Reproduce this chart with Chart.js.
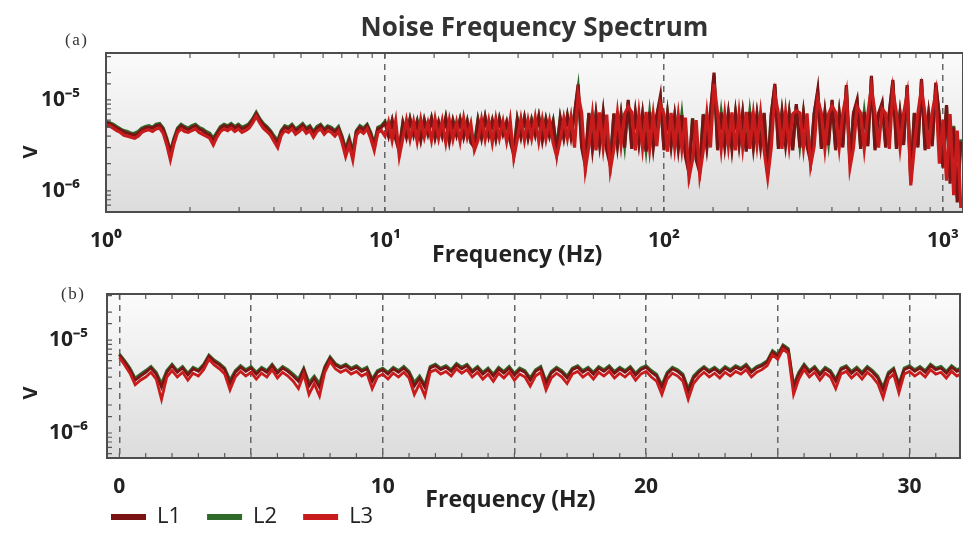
<!DOCTYPE html>
<html>
<head>
<meta charset="utf-8">
<title>Noise Frequency Spectrum</title>
<script src="https://cdn.jsdelivr.net/npm/chart.js@4.4.1/dist/chart.umd.min.js"></script>
<style>
  html, body { margin: 0; padding: 0; background: #fff; overflow: hidden; }
  body { width: 963px; height: 536px; position: relative; font-family: "Open Sans", sans-serif; }
  canvas { position: absolute; left: 0; }
  #topPanel { top: 0; }
  #bottomPanel { top: 270px; }
  .panel-tag { position: absolute; font: 17px "Liberation Serif", serif; letter-spacing: 1.5px; color: #333; }
  .axis-v { position: absolute; width: 20px; text-align: center; font: bold 20px "Open Sans", sans-serif;
            color: #222; transform: rotate(-90deg); line-height: 20px; }
</style>
</head>
<body>
<canvas id="topPanel" width="963" height="270"></canvas>
<canvas id="bottomPanel" width="963" height="270"></canvas>
<div class="panel-tag" style="left:65px; top:30px">(a)</div>
<div class="panel-tag" style="left:61px; top:284px">(b)</div>
<div class="axis-v" style="left:20px; top:142px">V</div>
<div class="axis-v" style="left:20px; top:383px">V</div>
<script>
// Noise spectrum for three lines, values in µV.
const seriesNames = ["L1", "L2", "L3"];
const seriesColors = ["#7a1414", "#2f6a2b", "#c81c1c"];
// L3 drawn on top, L2 underneath
const seriesOrder = [1, 2, 0];

// (a) log frequency axis, 78 bins per decade starting at 1 Hz
const topBinsPerDecade = 78;
const topL1 = [
  5.6, 5.5, 5.2, 4.9, 4.7, 4.45, 4.3, 4.2, 4.1, 4.3,
  4.7, 4.9, 5.0, 4.9, 5.2, 5.3, 4.7, 3.6, 2.7, 3.6,
  4.7, 5.2, 4.9, 4.7, 5.0, 5.2, 4.8, 4.6, 4.3, 4.1,
  3.6, 4.2, 4.9, 5.2, 5.0, 5.3, 4.9, 5.2, 4.8, 5.0,
  5.3, 6.0, 7.0, 6.0, 5.3, 4.9, 4.45, 3.8, 3.4, 4.45,
  5.0, 4.8, 5.2, 4.6, 4.9, 5.3, 4.7, 5.0, 4.3, 4.9,
  5.2, 4.6, 5.0, 4.8, 4.45, 4.9, 3.8, 2.7, 3.6, 2.5,
  4.45, 5.0, 4.7, 5.2, 4.2, 3.1, 4.8, 5.0, 5.6, 4.0,
  5.9, 3.7, 2.7, 5.5, 3.9, 6.1, 4.1, 5.7, 3.6, 5.9,
  4.2, 6.2, 3.8, 5.6, 4.0, 6.3, 3.5, 5.8, 4.1, 6.0,
  3.9, 5.7, 3.4, 3.0, 5.9, 3.8, 6.4, 4.0, 5.8, 3.7,
  6.1, 4.2, 5.6, 3.5, 2.5, 6.0, 3.9, 6.3, 3.8, 5.9,
  4.1, 6.5, 3.6, 6.0, 4.0, 5.7, 2.6, 6.2, 3.8, 6.6,
  3.9, 7.0, 14.8, 3.0, 1.9, 7.2, 2.9, 6.9, 3.2, 7.3,
  2.8, 1.9, 7.1, 3.1, 6.8, 3.0, 10.0, 2.9, 7.2, 3.3,
  6.9, 2.7, 7.4, 3.0, 6.7, 11.0, 2.8, 7.0, 3.1, 6.6,
  2.9, 6.8, 2.4, 1.55, 6.2, 2.2, 1.6, 6.9, 3.0, 7.1,
  20.0, 2.8, 7.3, 3.1, 6.9, 2.9, 7.2, 3.2, 7.0, 2.7,
  7.4, 3.0, 6.8, 3.1, 7.2, 1.5, 6.9, 15.0, 2.9, 7.3,
  3.2, 7.0, 2.8, 9.0, 3.0, 7.2, 3.1, 2.1, 7.0, 12.9,
  2.9, 7.3, 3.2, 10.0, 2.8, 7.1, 3.0, 14.6, 2.0, 7.2,
  10.0, 2.9, 7.4, 3.1, 18.4, 2.8, 7.0, 9.3, 3.0, 7.3,
  16.6, 2.9, 7.1, 3.2, 14.6, 1.26, 7.2, 3.0, 17.0, 2.8,
  7.0, 3.1, 15.5, 6.4, 1.8, 8.8, 1.2, 5.0, 0.75, 3.5,
];
const topL2 = [
  5.8, 5.6, 5.4, 5.1, 4.8, 4.6, 4.5, 4.3, 4.3, 4.5,
  4.9, 5.1, 5.2, 5.0, 5.4, 5.5, 4.9, 3.8, 2.7, 3.8,
  4.9, 5.4, 5.1, 4.9, 5.2, 5.4, 5.0, 4.8, 4.5, 4.3,
  3.8, 4.4, 5.1, 5.4, 5.2, 5.5, 5.1, 5.4, 5.0, 5.2,
  5.5, 6.2, 7.3, 6.2, 5.5, 5.1, 4.6, 4.0, 3.6, 4.6,
  5.2, 5.0, 5.4, 4.8, 5.1, 5.5, 4.9, 5.2, 4.5, 5.1,
  5.4, 4.8, 5.2, 5.0, 4.6, 5.1, 4.0, 2.9, 3.8, 2.7,
  4.6, 5.2, 4.9, 5.4, 4.4, 3.3, 5.0, 5.2, 5.8, 4.2,
  6.0, 3.9, 3.0, 5.7, 4.1, 6.2, 4.3, 5.9, 3.8, 6.1,
  4.4, 6.3, 4.0, 5.8, 4.2, 6.4, 3.7, 6.0, 4.3, 6.2,
  4.1, 5.9, 3.6, 3.3, 6.1, 4.0, 6.5, 4.2, 6.0, 3.9,
  6.3, 4.4, 5.8, 3.7, 2.8, 6.2, 4.1, 6.4, 4.0, 6.1,
  4.3, 6.6, 3.8, 6.2, 4.2, 5.9, 2.9, 6.4, 4.0, 6.7,
  4.1, 7.1, 13.5, 3.2, 2.1, 7.0, 3.1, 7.0, 3.4, 7.1,
  3.0, 2.1, 7.0, 3.3, 6.9, 3.2, 9.4, 3.1, 7.1, 3.5,
  7.0, 2.9, 7.2, 3.2, 6.8, 10.2, 3.0, 7.1, 3.3, 6.7,
  3.1, 6.9, 2.6, 1.7, 6.3, 2.4, 1.8, 7.0, 3.2, 7.2,
  18.5, 3.0, 7.2, 3.3, 7.0, 3.1, 7.1, 3.4, 7.1, 2.9,
  7.3, 3.2, 6.9, 3.3, 7.1, 1.7, 7.0, 14.0, 3.1, 7.2,
  3.4, 7.1, 3.0, 8.6, 3.2, 7.1, 3.3, 2.3, 7.1, 12.0,
  3.1, 7.2, 3.4, 9.5, 3.0, 7.2, 3.2, 13.6, 2.2, 7.1,
  9.5, 3.1, 7.3, 3.3, 17.2, 3.0, 7.1, 8.9, 3.2, 7.2,
  15.5, 3.1, 7.2, 3.4, 13.8, 1.4, 7.1, 3.2, 16.0, 3.0,
  7.1, 3.3, 14.5, 6.6, 2.0, 8.4, 1.4, 5.2, 0.85, 3.7,
];
const topL3 = [
  5.3, 5.2, 4.9, 4.6, 4.4, 4.1, 4.0, 3.9, 3.8, 4.0,
  4.4, 4.6, 4.7, 4.5, 4.8, 4.9, 4.3, 3.2, 2.2, 3.3,
  4.4, 4.8, 4.5, 4.4, 4.6, 4.8, 4.4, 4.2, 4.0, 3.8,
  3.2, 3.9, 4.5, 4.8, 4.6, 4.9, 4.5, 4.8, 4.4, 4.6,
  4.9, 5.6, 6.6, 5.6, 4.9, 4.5, 4.1, 3.5, 3.0, 4.1,
  4.6, 4.4, 4.8, 4.2, 4.5, 4.9, 4.3, 4.6, 3.9, 4.5,
  4.8, 4.2, 4.6, 4.4, 4.0, 4.5, 3.4, 2.4, 3.2, 2.2,
  4.1, 4.6, 4.3, 4.8, 3.8, 2.8, 4.4, 4.6, 4.0, 5.7,
  3.6, 5.9, 2.4, 3.8, 6.0, 3.7, 5.8, 3.5, 6.1, 3.9,
  5.6, 3.6, 6.2, 3.8, 5.9, 3.4, 6.0, 3.7, 5.7, 3.5,
  6.3, 3.9, 5.5, 2.8, 3.6, 6.1, 3.7, 5.9, 3.4, 6.2,
  3.8, 5.8, 3.5, 6.0, 2.3, 3.7, 6.2, 3.6, 6.0, 3.8,
  6.4, 3.5, 6.1, 3.7, 5.9, 3.4, 2.4, 3.6, 6.3, 3.8,
  6.5, 3.0, 11.5, 7.2, 1.7, 3.1, 7.0, 2.8, 7.3, 3.0,
  6.9, 1.7, 2.9, 7.2, 3.2, 7.0, 8.4, 7.3, 2.8, 7.1,
  3.0, 7.4, 2.9, 6.9, 3.1, 9.0, 7.0, 2.7, 7.2, 3.0,
  6.8, 2.9, 6.4, 1.4, 2.2, 6.0, 1.5, 2.8, 7.1, 3.0,
  15.0, 7.2, 2.9, 7.0, 3.1, 7.3, 2.8, 7.1, 3.0, 7.4,
  2.9, 7.0, 3.2, 7.2, 2.8, 1.4, 3.0, 11.5, 7.1, 2.9,
  7.3, 3.1, 7.0, 7.6, 7.2, 3.0, 7.1, 1.9, 3.1, 10.2,
  7.2, 2.9, 7.0, 8.6, 7.3, 3.0, 7.1, 11.8, 1.8, 3.0,
  8.4, 7.2, 2.9, 7.0, 14.0, 7.3, 3.0, 8.0, 7.1, 2.9,
  12.8, 7.2, 3.0, 7.1, 11.6, 1.15, 3.0, 7.2, 13.5, 7.0,
  2.9, 7.3, 12.0, 2.0, 6.0, 1.3, 7.0, 0.9, 4.6, 0.65,
];

// (b) linear frequency axis, 0.2 Hz bins from 0 Hz
const bottomStepHz = 0.2;
const bottomL1 = [
  6.9, 5.8, 4.8, 3.7, 4.1, 4.5, 5.0, 4.3, 3.1, 4.5,
  5.3, 4.5, 5.0, 4.2, 4.9, 4.6, 5.3, 6.7, 5.9, 5.4,
  4.8, 3.4, 4.5, 5.1, 4.6, 5.0, 4.3, 4.9, 4.5, 5.3,
  4.4, 5.0, 4.6, 4.1, 3.6, 4.8, 3.2, 3.9, 3.1, 5.0,
  6.4, 5.4, 5.0, 5.3, 4.8, 5.1, 4.6, 4.9, 3.6, 4.5,
  4.8, 4.3, 4.9, 4.5, 5.0, 4.4, 3.2, 3.9, 3.1, 5.0,
  5.3, 4.8, 5.1, 4.6, 5.4, 4.9, 5.3, 4.5, 5.0, 4.3,
  4.8, 4.1, 4.9, 4.4, 5.0, 4.2, 4.8, 4.5, 3.7, 4.6,
  5.0, 3.4, 4.4, 4.9, 4.5, 3.9, 4.8, 5.1, 4.5, 4.9,
  4.3, 5.0, 4.6, 5.1, 4.4, 4.9, 4.5, 5.0, 4.2, 4.8,
  5.1, 4.5, 4.1, 3.1, 4.3, 4.9, 4.6, 4.1, 2.8, 3.9,
  4.5, 5.0, 4.5, 4.9, 4.4, 5.0, 4.6, 5.1, 4.8, 5.3,
  4.5, 5.0, 5.3, 5.8, 7.4, 6.7, 8.6, 7.8, 3.1, 4.3,
  5.3, 4.5, 5.0, 4.2, 4.9, 4.5, 3.6, 4.8, 5.1, 4.4,
  4.9, 4.3, 5.0, 4.5, 3.9, 2.9, 4.3, 4.8, 3.2, 4.8,
  5.1, 4.6, 5.0, 4.5, 5.3, 4.8, 5.0, 4.4, 5.1, 4.6,
  4.9,
];
const bottomL2 = [
  7.1, 6.0, 5.0, 3.9, 4.3, 4.7, 5.2, 4.5, 3.4, 4.7,
  5.5, 4.7, 5.2, 4.4, 5.1, 4.8, 5.5, 6.9, 6.1, 5.6,
  5.0, 3.7, 4.7, 5.3, 4.8, 5.2, 4.5, 5.1, 4.7, 5.5,
  4.6, 5.2, 4.8, 4.3, 3.8, 5.0, 3.5, 4.1, 3.4, 5.2,
  6.6, 5.6, 5.2, 5.5, 5.0, 5.3, 4.8, 5.1, 3.8, 4.7,
  5.0, 4.5, 5.1, 4.7, 5.2, 4.6, 3.5, 4.1, 3.3, 5.2,
  5.5, 5.0, 5.3, 4.8, 5.6, 5.1, 5.5, 4.7, 5.2, 4.5,
  5.0, 4.3, 5.1, 4.6, 5.2, 4.4, 5.0, 4.7, 3.9, 4.8,
  5.2, 3.6, 4.6, 5.1, 4.7, 4.1, 5.0, 5.3, 4.7, 5.1,
  4.5, 5.2, 4.8, 5.3, 4.6, 5.1, 4.7, 5.2, 4.4, 5.0,
  5.3, 4.7, 4.3, 3.3, 4.5, 5.1, 4.8, 4.3, 3.0, 4.1,
  4.7, 5.2, 4.7, 5.1, 4.6, 5.2, 4.8, 5.3, 5.0, 5.5,
  4.7, 5.2, 5.5, 6.0, 7.7, 7.0, 8.9, 8.1, 3.3, 4.5,
  5.5, 4.7, 5.2, 4.4, 5.1, 4.7, 3.8, 5.0, 5.3, 4.6,
  5.1, 4.5, 5.2, 4.7, 4.1, 3.1, 4.5, 5.0, 3.4, 5.0,
  5.3, 4.8, 5.2, 4.7, 5.5, 5.0, 5.2, 4.6, 5.3, 4.8,
  5.1,
];
const bottomL3 = [
  6.5, 5.4, 4.4, 3.3, 3.7, 4.0, 4.5, 3.8, 2.3, 4.0,
  4.7, 4.0, 4.5, 3.7, 4.4, 4.1, 4.8, 6.2, 5.4, 4.9,
  4.3, 2.9, 4.0, 4.6, 4.1, 4.5, 3.8, 4.4, 4.0, 4.8,
  3.9, 4.5, 4.1, 3.6, 3.0, 4.3, 2.6, 3.4, 2.5, 4.5,
  5.9, 4.9, 4.5, 4.8, 4.3, 4.6, 4.1, 4.4, 3.0, 4.0,
  4.3, 3.8, 4.4, 4.0, 4.5, 3.9, 2.6, 3.4, 2.5, 4.5,
  4.8, 4.3, 4.6, 4.1, 4.9, 4.4, 4.8, 4.0, 4.5, 3.8,
  4.3, 3.6, 4.4, 3.9, 4.5, 3.7, 4.3, 4.0, 3.2, 4.1,
  4.5, 2.9, 3.9, 4.4, 4.0, 3.4, 4.3, 4.6, 4.0, 4.4,
  3.8, 4.5, 4.1, 4.6, 3.9, 4.4, 4.0, 4.5, 3.7, 4.3,
  4.6, 4.0, 3.6, 2.6, 3.8, 4.4, 4.1, 3.6, 2.3, 3.4,
  4.0, 4.5, 4.0, 4.4, 3.9, 4.5, 4.1, 4.6, 4.3, 4.8,
  4.0, 4.5, 4.8, 5.3, 6.9, 6.2, 8.0, 7.2, 2.6, 3.8,
  4.8, 4.0, 4.5, 3.7, 4.4, 4.0, 3.0, 4.3, 4.6, 3.9,
  4.4, 3.8, 4.5, 4.0, 3.4, 2.4, 3.8, 4.3, 2.7, 4.3,
  4.6, 4.1, 4.5, 4.0, 4.8, 4.3, 4.5, 3.9, 4.6, 4.1,
  4.4,
];

// Axis ranges (Hz and V)
const topRangeX = [1, 1180];
const topRangeY = [5.87e-7, 3.28e-5];
const bottomRangeX = [-0.47, 31.92];
const bottomRangeY = [5.38e-7, 3.13e-5];

Chart.defaults.font.family = "'Open Sans', sans-serif";
Chart.defaults.color = "#222";

const SUPERSCRIPT = { "-": "\u207B", "0": "\u2070", "1": "\u00B9", "2": "\u00B2", "3": "\u00B3",
  "4": "\u2074", "5": "\u2075", "6": "\u2076", "7": "\u2077", "8": "\u2078", "9": "\u2079" };

const isPowerOfTen = (v) => {
  const e = Math.log10(v);
  return Math.abs(e - Math.round(e)) < 1e-6;
};
const powerLabel = (v) => {
  if (!isPowerOfTen(v)) return "";
  const exp = String(Math.round(Math.log10(v)));
  return "10" + exp.split("").map((c) => SUPERSCRIPT[c]).join("");
};

const toPoints = (freqs, microvolts) => microvolts.map((v, i) => ({ x: freqs[i], y: v * 1e-6 }));

const makeDatasets = (freqs, seriesList, width) => seriesList.map((values, k) => ({
  label: seriesNames[k],
  data: toPoints(freqs, values),
  borderColor: seriesColors[k],
  backgroundColor: seriesColors[k],
  borderWidth: width,
  pointRadius: 0,
  order: seriesOrder[k],
}));

// Grey gradient behind the plot, frame and short inner ticks on top
const panelFrame = {
  id: "panelFrame",
  beforeDraw(chart) {
    const { ctx, chartArea: a } = chart;
    const g = ctx.createLinearGradient(0, a.top, 0, a.bottom);
    g.addColorStop(0, "#fbfbfb");
    g.addColorStop(1, "#dcdcdc");
    ctx.save();
    ctx.fillStyle = g;
    ctx.fillRect(a.left, a.top, a.right - a.left, a.bottom - a.top);
    ctx.restore();
  },
  afterDraw(chart) {
    const { ctx, chartArea: a, scales: { x, y } } = chart;
    ctx.save();
    ctx.strokeStyle = "#5a5a5a";
    ctx.lineWidth = 1.2;
    ctx.beginPath();
    x.ticks.forEach(({ value }) => {
      if (Math.abs(value - Math.round(value)) > 1e-6 || value <= x.min || value >= x.max) return;
      const px = x.getPixelForValue(value);
      ctx.moveTo(px, a.top);
      ctx.lineTo(px, a.top + 5);
      ctx.moveTo(px, a.bottom);
      ctx.lineTo(px, a.bottom - 5);
    });
    y.ticks.forEach(({ value }) => {
      if (value <= y.min || value >= y.max) return;
      const py = y.getPixelForValue(value);
      ctx.moveTo(a.left, py);
      ctx.lineTo(a.left + 5, py);
    });
    ctx.stroke();
    ctx.lineWidth = 2;
    ctx.strokeStyle = "#4d4d4d";
    ctx.strokeRect(a.left, a.top, a.right - a.left, a.bottom - a.top);
    ctx.restore();
  },
};

const tickFont = { size: 21, weight: "bold" };
const axisTitleFont = { size: 23, weight: "bold" };

// tick marks are kept invisible; their length pushes the labels down
// without the extra side padding that ticks.padding adds
const xGrid = (isMajor) => ({
  color: (ctx) => (ctx.tick && isMajor(ctx.tick.value) ? "#666" : "rgba(0,0,0,0)"),
  lineWidth: 1.5,
  drawTicks: true,
  tickLength: 16,
  tickColor: "rgba(0,0,0,0)",
});

const yAxis = (range, width, padding) => ({
  type: "logarithmic",
  min: range[0],
  max: range[1],
  afterFit: (scale) => { scale.width = width; },
  grid: { display: false },
  border: { display: false },
  ticks: { autoSkip: false, padding, font: tickFont, callback: (v) => powerLabel(v) },
});

const baseOptions = {
  responsive: false,
  animation: false,
  parsing: false,
  normalized: true,
  events: [],
};

// (a) full range on log axis
const topFreqs = topL1.map((_, i) => Math.pow(10, i / topBinsPerDecade));
new Chart(document.getElementById("topPanel"), {
  type: "line",
  data: { datasets: makeDatasets(topFreqs, [topL1, topL2, topL3], 3.2) },
  plugins: [panelFrame],
  options: {
    ...baseOptions,
    layout: { padding: 0 },
    plugins: {
      legend: { display: false },
      tooltip: { enabled: false },
      title: {
        display: true,
        fullSize: false,
        text: "Noise Frequency Spectrum",
        color: "#333",
        font: { size: 26, weight: "bold" },
        padding: { top: 13, bottom: 8.8 },
      },
    },
    scales: {
      x: {
        type: "logarithmic",
        min: topRangeX[0],
        max: topRangeX[1],
        afterFit: (scale) => { scale.height = 58; },
        grid: xGrid(isPowerOfTen),
        border: { display: false, dash: [6, 5] },
        ticks: { autoSkip: false, maxRotation: 0, padding: 0, font: tickFont, callback: (v) => powerLabel(v) },
        title: { display: true, text: "Frequency (Hz)\u2003\u2002", font: axisTitleFont, padding: { top: 0, bottom: 1 } },
      },
      y: yAxis(topRangeY, 106, 18),
    },
  },
});

// (b) low frequency part on linear axis, one tick per Hz
const bottomFreqs = bottomL1.map((_, i) => i * bottomStepHz);
new Chart(document.getElementById("bottomPanel"), {
  type: "line",
  data: { datasets: makeDatasets(bottomFreqs, [bottomL1, bottomL2, bottomL3], 2.8) },
  plugins: [panelFrame],
  options: {
    ...baseOptions,
    layout: { padding: { top: 24, right: 3, bottom: 2, left: 0 } },
    plugins: {
      tooltip: { enabled: false },
      legend: {
        position: "bottom",
        align: "start",
        fullSize: false,
        labels: {
          boxWidth: 35,
          boxHeight: 6,
          padding: 4,
          color: "#222",
          font: { size: 22 },
          generateLabels: (chart) => Chart.defaults.plugins.legend.labels.generateLabels(chart)
            .sort((a, b) => a.datasetIndex - b.datasetIndex)
            .map((item) => ({ ...item, text: item.text + "\u2003", lineWidth: 0 })),
        },
      },
    },
    scales: {
      x: {
        type: "linear",
        min: bottomRangeX[0],
        max: bottomRangeX[1],
        afterFit: (scale) => { scale.height = 44; },
        afterBuildTicks: (scale) => {
          const ticks = [];
          for (let v = Math.ceil(scale.min); v <= Math.floor(scale.max); v++) ticks.push({ value: v });
          scale.ticks = ticks;
        },
        grid: xGrid((v) => v % 5 === 0),
        border: { display: false, dash: [6, 5] },
        ticks: {
          autoSkip: false,
          maxRotation: 0,
          padding: 0,
          font: tickFont,
          callback: (v) => (v % 10 === 0 ? String(v) : ""),
        },
        title: { display: true, text: "Frequency (Hz)\u2003\u2003", font: axisTitleFont, padding: { top: 0, bottom: -11.8 } },
      },
      y: yAxis(bottomRangeY, 107, 11),
    },
  },
});
</script>
</body>
</html>
